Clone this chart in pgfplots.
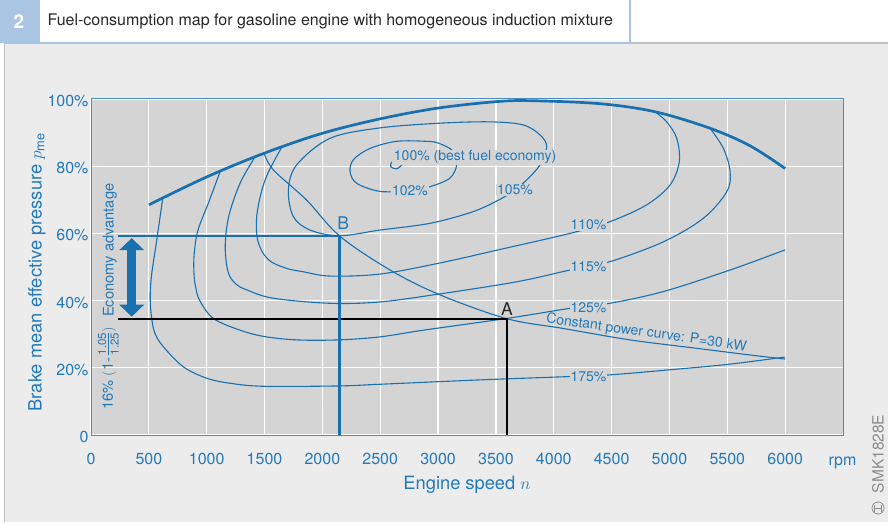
\documentclass[border=0pt]{standalone}
\usepackage{fontspec}
\setmainfont{TeX Gyre Heros}
\usepackage{pgfplots}
\pgfplotsset{compat=1.18}
\usetikzlibrary{arrows.meta}
\definecolor{bblue}{RGB}{24,112,176}
\definecolor{tblue}{RGB}{35,122,186}
\definecolor{plotgray}{RGB}{212,212,212}
\definecolor{panelgray}{RGB}{236,236,236}
\definecolor{framegray}{RGB}{192,192,192}
\definecolor{titleblue}{RGB}{170,196,228}
\newcommand\fs[1]{\fontsize{#1}{#1}\selectfont}
\tikzset{
  contour/.style={bblue, line width=1.1pt, smooth, tension=0.55},
  lab/.style={fill=plotgray, inner sep=0.8pt, text=tblue, font=\fs{14}},
}
\begin{document}
\begin{tikzpicture}[x=1pt,y=1pt]
\path[use as bounding box] (0,0) rectangle (888,522);
\fill[white] (0,0) rectangle (888,522);
\fill[panelgray] (4.5,0) rectangle (888,479);
\draw[framegray, line width=1.2pt] (4.5,0) -- (4.5,479) -- (888,479);
\fill[titleblue] (0,478.5) rectangle (38,522);
\draw[titleblue, line width=1.5pt, fill=white] (38.75,479.25) rectangle (630,523);
\node[white, font=\fs{19}\bfseries] at (19,500.5) {2};
\node[anchor=west, font=\fs{16}, text=black!85] at (44,500.5) {Fuel-consumption map for gasoline engine with homogeneous induction mixture};
\begin{axis}[
  at={(91pt,87pt)}, anchor=south west, scale only axis,
  width=752pt, height=336pt,
  xmin=0, xmax=6500, ymin=0, ymax=100,
  axis background/.style={fill=plotgray},
  axis line style={bblue!80, line width=1pt},
  xtick={0,500,...,6000},
  xticklabels={0,500,1000,1500,2000,2500,3000,3500,4000,4500,5000,5500,6000},
  ytick={0,20,40,60,80,100},
  yticklabels={0,20\%,40\%,60\%,80\%,100\%},
  grid=major, major grid style={white, line width=1.3pt},
  major tick length=0pt,
  tick label style={font=\fs{16}, text=tblue},
  xticklabel style={yshift=-15pt},
  yticklabel style={xshift=1pt, yshift=-2pt},
  xlabel={Engine speed $n$},
  ylabel={Brake mean effective pressure $p$\textsubscript{me}},
  label style={font=\fs{18.3}, text=tblue},
  xlabel style={at={(rel axis cs:0.5,-0.149)}, anchor=center},
  ylabel style={at={(rel axis cs:-0.0718,0.485)}, anchor=center},
  clip=false,
]
% full load curve
\addplot[bblue, line width=2.7pt, smooth, tension=0.55, no marks] coordinates {
(500,68.5) (1000,76.8) (1500,83.9) (2000,89.8) (2500,94.1) (3000,97.3) (3500,99.2) (3800,99.5) (4400,98.6) (4875,96.2) (5350,91.3) (5700,86) (6000,79.3)};
% 175 %
\addplot[contour, no marks] coordinates {
(620,70.4) (585,62) (555,55) (525,48) (512,42) (520,36) (550,30.5) (625,26.3) (798,20.3) (1000,16.9) (1201,15.4) (1490,14.5) (2138,14.6) (2498,15.1) (3362,16.4) (4140,17.4) (4486,17.9) (5000,19.4) (5500,21) (6000,23.2)};
% 125 %
\addplot[contour, no marks] coordinates {
(1115,78.3) (1020,69.5) (925,61) (892,54) (890,48) (905,44) (940,40) (1057,34.7) (1288,31.2) (1500,29.3) (1781,28.3) (2135,28.3) (2498,29.2) (2873,31.2) (3596,34.7) (4140,37.7) (4486,39.2) (4948,42.7) (5524,49.1) (6000,55.1)};
% 115 %
\addplot[contour, no marks] coordinates {
(1418,82.8) (1288,74.9) (1190,65) (1160,56) (1185,48.5) (1250,45) (1346,43.2) (1576,40.7) (2066,39.2) (2498,39.6) (3017,42) (3680,45.6) (4140,49.1) (4486,51.6) (4948,57.5) (5293,64.5) (5495,72.4) (5524,78.4) (5466,85.3) (5351,91.3)};
% 110 %
\addplot[contour, no marks] coordinates {
(1648,85.6) (1530,78) (1470,72) (1432,65) (1435,59) (1480,54.5) (1560,51.5) (1700,49.5) (1833,48.6) (2066,47.3) (2498,47.9) (3017,51.2) (3507,55) (4140,60) (4486,63.5) (4803,68.5) (5005,74.4) (5085,81.3) (5063,88.3) (4976,93.2) (4875,96.2)};
% 105 %
\addplot[contour, no marks] coordinates {
(3665,72.9) (3766,75.9) (3881,80.4) (3939,85.8) (3881,89.3) (3734,92.3) (3449,93.2) (3017,92.8) (2498,91.4) (2066,88.3) (1778,80.4) (1706,72.9) (1749,65) (1893,61) (2150,59.3) (2498,61) (2930,63) (3305,66.5) (3549,70.4) (3665,72.9)};
% 102 %
\addplot[contour, no marks] coordinates {
(2757,72.6) (2930,73.9) (3100,76.4) (3161,80.4) (3130,84.5) (3000,86.9) (2900,87.4) (2642,87.4) (2412,85.3) (2270,82) (2239,78.4) (2297,74.9) (2498,72.5) (2757,72.6)};
% 100 %
\addplot[contour, no marks] coordinates {(2600,81.3) (2590,79.9) (2642,79.2) (2686,80.4) (2695,81.8)};
% constant power curve
\addplot[contour, no marks] coordinates {
(1496,83.9) (1576,78.9) (1864,69.9) (2150,59.2) (2585,49.1) (3017,41.7) (3596,34.6) (4083,31.7) (4659,28.3) (5236,25.8) (5700,23.8) (6000,22.6)};
% operating points
\addplot[black, line width=2.2pt, no marks] coordinates {(233,34.6) (3596,34.6) (3596,0)};
\addplot[bblue, line width=2.5pt, no marks] coordinates {(233,59.2) (2150,59.2) (2150,0)};
\draw[bblue, line width=8.5pt, {Triangle[length=12pt,width=24pt]}-{Triangle[length=12pt,width=24pt]}] (axis cs:352,58.6) -- (axis cs:352,35.2);
% labels
\node[lab] at (axis cs:4300,62.5) {110\%};
\node[lab] at (axis cs:4300,50.1) {115\%};
\node[lab] at (axis cs:4300,38.0) {125\%};
\node[lab] at (axis cs:4300,17.5) {175\%};
\node[lab] at (axis cs:3665,72.9) {105\%};
\node[lab] at (axis cs:2757,72.8) {102\%};
\node[lab, anchor=west] at (axis cs:2610,82.7) {100\% (best fuel economy)};
\node[text=tblue, font=\fs{14}, rotate=-8] at (axis cs:4800,30.3) {Constant power curve: P=30 kW};
\node[text=black!85, font=\fs{17.5}] at (axis cs:3596,37.6) {A};
\node[text=tblue, font=\fs{17.5}] at (axis cs:2180,63.2) {B};
\node[rotate=90, text=tblue, font=\fs{14.7}] at (axis cs:164,55) {Economy advantage};
\node[rotate=90, text=tblue, font=\fs{14.7}, inner sep=0pt] at (axis cs:164,19.8) {16\% $\Big($1-\,{\fs{11.5}\setlength{\tabcolsep}{0pt}\begin{tabular}{c}1.05\\[-1.5pt]\hline\rule{0pt}{10pt}1.25\end{tabular}}$\Big)$};
\end{axis}
\node[anchor=base, text=tblue, font=\fs{16}] at (842.5,57) {rpm};
\node[rotate=90, text=black!45, font=\fs{15.5}] at (878,68) {SMK1828E};
\draw[black!45, line width=0.8pt] (878,14) circle (6);
\draw[black!45, line width=0.8pt] (874.5,14) -- (881.5,14) (874.5,10.5) -- (874.5,17.5) (881.5,10.5) -- (881.5,17.5);
\end{tikzpicture}
\end{document}
